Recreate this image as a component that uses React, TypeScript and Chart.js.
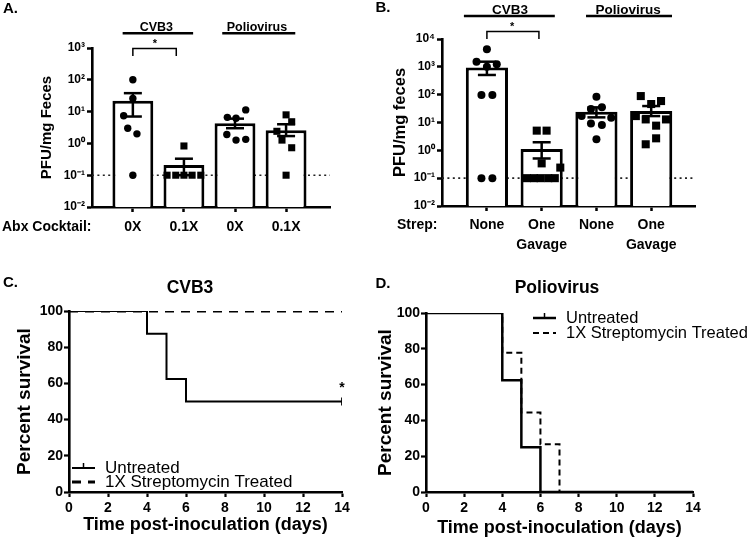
import React, { useEffect, useRef } from "react";
import { Chart, registerables } from "chart.js";
Chart.register(...registerables);

const FAMILY = "'Liberation Sans', Arial, Helvetica, sans-serif";
const BLACK = "#000000";

// ---------------- Panel A data ----------------
const aCategories: (string | string[])[] = ["0X", "0.1X", "0X", "0.1X"];
const aGroupLabels = ["CVB3", "Poliovirus"];
const aMeans = [22, 0.21, 4.3, 2.6];
const aSemHigh = [38, 0.33, 6.0, 4.0];
const aSemLow = [7, 0.1, 3.0, 1.7];
const aPointValues = [
  [100, 26, 7.4, 3, 2, 0.1],
  [0.83, 0.1, 0.1, 0.1, 0.1, 0.1],
  [11.3, 6.6, 6.2, 1.9, 1.27, 1.34],
  [7.9, 4.8, 2.4, 1.27, 0.73, 0.1],
];
const aPointX = [
  [0, 0, -0.18, -0.1, 0.08, 0],
  [0, -0.33, -0.16, 0, 0.16, 0.33],
  [0.21, -0.15, 0.02, -0.16, 0.02, 0.21],
  [0, 0.11, -0.18, -0.08, 0.11, 0],
];
const aDetectionLimit = 0.1;
const aTickValues = [0.01, 0.1, 1, 10, 100, 1000];
const aTickLabels = ["10⁻²", "10⁻¹", "10⁰", "10¹", "10²", "10³"];

// ---------------- Panel B data ----------------
const bCategories: (string | string[])[] = ["None", ["One", "Gavage"], "None", ["One", "Gavage"]];
const bGroupLabels = ["CVB3", "Poliovirus"];
const bMeans = [940, 1.12, 24.5, 26];
const bSemHigh = [1530, 1.95, 35, 39];
const bSemLow = [510, 0.51, 15.3, 17];
const bPointValues = [
  [4260, 1530, 1240, 1000, 97, 97, 0.1, 0.1],
  [5.1, 5.1, 0.34, 0.24, 0.1, 0.1, 0.1, 0.1, 0.1],
  [85, 35, 30.5, 17, 14.8, 9.3, 8.1, 2.5],
  [89, 59, 46, 17, 12.9, 12.9, 7.7, 2.7, 1.65],
];
const bPointX = [
  [0, -0.19, 0.18, 0, -0.1, 0.1, -0.1, 0.1],
  [-0.09, 0.09, 0, 0.34, -0.27, -0.14, -0.02, 0.12, 0.24],
  [0, 0.1, -0.1, -0.27, 0.27, -0.1, 0.1, 0],
  [-0.19, 0.18, 0, -0.28, -0.1, 0.27, 0.09, 0.09, -0.1],
];
const bDetectionLimit = 0.1;
const bTickValues = [0.01, 0.1, 1, 10, 100, 1000, 10000];
const bTickLabels = ["10⁻²", "10⁻¹", "10⁰", "10¹", "10²", "10³", "10⁴"];

// ---------------- Panel C data ----------------
const cUntreatedDays = [0, 4, 5, 6, 14];
const cUntreatedSurvival = [100, 87.5, 62.5, 50, 50];
const cTreatedDays = [0, 14];
const cTreatedSurvival = [100, 100];

// ---------------- Panel D data ----------------
const dUntreatedDays = [0, 4, 5, 6, 14];
const dUntreatedSurvival = [100, 62.5, 25, 0, 0];
const dTreatedDays = [0, 4, 5, 6, 7, 14];
const dTreatedSurvival = [100, 77.8, 44.4, 26.7, 0, 0];

const legendLabels = ["Untreated", "1X Streptomycin Treated"];

// ---------------- helpers ----------------
function drawText(ctx: CanvasRenderingContext2D, s: string, x: number, y: number, font: string, align: CanvasTextAlign = "center") {
  ctx.save();
  ctx.font = font;
  ctx.fillStyle = BLACK;
  ctx.textAlign = align;
  ctx.textBaseline = "middle";
  ctx.fillText(s, x, y);
  ctx.restore();
}
function drawLine(ctx: CanvasRenderingContext2D, pts: number[][], width: number, dash: number[] = []) {
  ctx.save();
  ctx.strokeStyle = BLACK;
  ctx.lineWidth = width;
  ctx.setLineDash(dash);
  ctx.beginPath();
  pts.forEach((p, i) => (i === 0 ? ctx.moveTo(p[0], p[1]) : ctx.lineTo(p[0], p[1])));
  ctx.stroke();
  ctx.restore();
}

type BarSpec = {
  letter: string; letterX: number; letterY: number;
  categories: (string | string[])[];
  groupLabels: string[];
  groupCenters: number[]; groupFrom: number[]; groupTo: number[];
  groupY: number; groupLineY: number; groupFont: number;
  bracket: [number, number]; bracketTop: number; bracketBottom: number; starX: number; starY: number;
  prefix: string; prefixX: number;
  means: number[]; semHigh: number[]; semLow: number[];
  pointValues: number[][]; pointX: number[][];
  detectionLimit: number;
  tickValues: number[]; tickLabels: string[];
  yTitle: string; yTitleSize: number;
  xMin: number; xMax: number;
  padding: { left: number; right: number; top: number; bottom: number };
  yWidth: number; xHeight: number;
  xTickPadding: number; xTickLineHeight: number;
  barPct: number; circleR: number; squareR: number;
};

function barConfig(s: BarSpec): any {
  const circles: any[] = [];
  const squares: any[] = [];
  s.pointValues.forEach((vals, ci) => {
    vals.forEach((v, j) => {
      const pt = { x: ci + s.pointX[ci][j], y: v };
      if (ci % 2 === 0) circles.push(pt); else squares.push(pt);
    });
  });
  const semPlugin = {
    id: "sem" + s.letter,
    afterDatasetDraw(chart: any, args: any) {
      if (args.meta.type !== "bar") return;
      const { ctx } = chart;
      const xs = chart.scales.x, ys = chart.scales.y;
      const cap = 9;
      s.semHigh.forEach((hi, i) => {
        const px = xs.getPixelForValue(i);
        const yh = ys.getPixelForValue(hi);
        const yl = ys.getPixelForValue(s.semLow[i]);
        drawLine(ctx, [[px, yh], [px, yl]], 2.5);
        drawLine(ctx, [[px - cap, yh], [px + cap, yh]], 2.5);
        drawLine(ctx, [[px - cap, yl], [px + cap, yl]], 2.5);
      });
    },
  };
  const annotPlugin = {
    id: "annot" + s.letter,
    afterDraw(chart: any) {
      const { ctx } = chart;
      const xs = chart.scales.x;
      drawText(ctx, s.letter, s.letterX, s.letterY, `bold 15px ${FAMILY}`, "left");
      s.groupLabels.forEach((g, i) => {
        drawText(ctx, g, xs.getPixelForValue(s.groupCenters[i]), s.groupY, `bold ${s.groupFont}px ${FAMILY}`);
        drawLine(ctx, [[xs.getPixelForValue(s.groupFrom[i]), s.groupLineY], [xs.getPixelForValue(s.groupTo[i]), s.groupLineY]], 2.6);
      });
      const b0 = xs.getPixelForValue(s.bracket[0]);
      const b1 = xs.getPixelForValue(s.bracket[1]);
      drawLine(ctx, [[b0, s.bracketBottom], [b0, s.bracketTop], [b1, s.bracketTop], [b1, s.bracketBottom]], 1.5);
      drawText(ctx, "*", xs.getPixelForValue(s.starX), s.starY, `bold 11px ${FAMILY}`);
      const tickY = xs.top + 5 + s.xTickPadding + (14 * s.xTickLineHeight) / 2;
      drawText(ctx, s.prefix, s.prefixX, tickY, `bold 14px ${FAMILY}`, "left");
    },
  };
  return {
    type: "bar",
    data: {
      datasets: [
        {
          type: "scatter", data: circles, order: 1,
          pointStyle: "circle", pointRadius: s.circleR, pointBackgroundColor: BLACK, pointBorderWidth: 0,
        },
        {
          type: "scatter", data: squares, order: 1,
          pointStyle: "rect", pointRadius: s.squareR, pointBackgroundColor: BLACK, pointBorderWidth: 0,
        },
        {
          type: "bar", order: 2,
          data: s.means.map((m, i) => ({ x: i, y: m })),
          backgroundColor: "#ffffff", borderColor: BLACK, borderWidth: 3,
          barPercentage: s.barPct, categoryPercentage: 1,
        },
        {
          type: "line", order: 3,
          data: [{ x: s.xMin, y: s.detectionLimit }, { x: s.xMax, y: s.detectionLimit }],
          borderColor: "#222", borderWidth: 1.6, borderDash: [2, 3.4], pointRadius: 0, fill: false,
        },
      ],
    },
    options: {
      animation: false, responsive: false, events: [],
      layout: { padding: s.padding },
      plugins: { legend: { display: false }, tooltip: { enabled: false } },
      scales: {
        x: {
          type: "linear", min: s.xMin, max: s.xMax, offset: false,
          afterBuildTicks: (sc: any) => { sc.ticks = s.categories.map((_, i) => ({ value: i })); },
          afterFit: (sc: any) => { sc.height = s.xHeight; },
          ticks: {
            callback: (_v: any, i: number) => s.categories[i],
            autoSkip: false, maxRotation: 0, color: BLACK, padding: s.xTickPadding,
            font: { family: FAMILY, size: 14, weight: "bold", lineHeight: s.xTickLineHeight },
          },
          grid: { display: true, offset: false, drawOnChartArea: false, drawTicks: true, tickLength: 5, tickWidth: 2.5, color: BLACK },
          border: { display: true, color: BLACK, width: 2.6 },
        },
        y: {
          type: "logarithmic", min: s.tickValues[0], max: s.tickValues[s.tickValues.length - 1],
          afterBuildTicks: (sc: any) => { sc.ticks = s.tickValues.map((v) => ({ value: v })); },
          afterFit: (sc: any) => { sc.width = s.yWidth; },
          ticks: {
            callback: (_v: any, i: number) => s.tickLabels[i],
            color: BLACK, padding: 2,
            font: { family: FAMILY, size: 12, weight: "bold" },
          },
          grid: { display: true, drawOnChartArea: false, drawTicks: true, tickLength: 5, tickWidth: 2.5, color: BLACK },
          border: { display: true, color: BLACK, width: 2.6 },
          title: {
            display: true, text: s.yTitle, color: BLACK, padding: 0,
            font: { family: FAMILY, size: s.yTitleSize, weight: "bold", lineHeight: 1 },
          },
        },
      },
    },
    plugins: [semPlugin, annotPlugin],
  };
}

type SurvSpec = {
  letter: string; letterX: number; letterY: number;
  title: string; titleX: number; titleY: number; titleSize: number;
  untreatedDays: number[]; untreatedSurvival: number[];
  treatedDays: number[]; treatedSurvival: number[];
  untreatedWidth: number; treatedWidth: number; treatedDash: number[];
  censorLast: boolean; star: boolean;
  padding: { left: number; right: number; top: number; bottom: number };
  yWidth: number; xHeight: number;
  legendX: number; legendY: number; legendGap: number; legendSize: number;
};

function survConfig(s: SurvSpec): any {
  const n = s.untreatedDays.length;
  const annot = {
    id: "annot" + s.letter,
    afterDraw(chart: any) {
      const { ctx } = chart;
      const xs = chart.scales.x, ys = chart.scales.y;
      drawText(ctx, s.letter, s.letterX, s.letterY, `bold 15px ${FAMILY}`, "left");
      drawText(ctx, s.title, s.titleX, s.titleY, `bold ${s.titleSize}px ${FAMILY}`);
      if (s.star) {
        drawText(ctx, "*", xs.getPixelForValue(s.untreatedDays[n - 1]), ys.getPixelForValue(s.untreatedSurvival[n - 1]) - 13, `bold 14px ${FAMILY}`);
      }
      // legend
      const lx = s.legendX, ly = s.legendY;
      drawLine(ctx, [[lx, ly], [lx + 23, ly]], s.untreatedWidth);
      drawLine(ctx, [[lx + 11.5, ly], [lx + 11.5, ly - 5]], 1.5);
      drawLine(ctx, [[lx, ly + s.legendGap], [lx + 23, ly + s.legendGap]], s.treatedWidth, s.treatedDash);
      drawText(ctx, legendLabels[0], lx + 33, ly, `${s.legendSize}px ${FAMILY}`, "left");
      drawText(ctx, legendLabels[1], lx + 33, ly + s.legendGap, `${s.legendSize}px ${FAMILY}`, "left");
    },
  };
  const axisCommon = (title: string, size: number) => ({
    grid: { display: true, drawOnChartArea: false, drawTicks: true, tickLength: 5, tickWidth: 2.2, color: BLACK },
    border: { display: true, color: BLACK, width: 2.6 },
    title: { display: true, text: title, color: BLACK, padding: 0, font: { family: FAMILY, size, weight: "bold", lineHeight: 1 } },
  });
  return {
    type: "line",
    data: {
      datasets: [
        {
          data: s.untreatedDays.map((d, i) => ({ x: d, y: s.untreatedSurvival[i] })),
          stepped: true, borderColor: BLACK, borderWidth: s.untreatedWidth, fill: false, order: 1,
          pointStyle: "line", rotation: 90, pointBorderColor: BLACK, pointBorderWidth: 1.8,
          pointRadius: s.untreatedDays.map((_, i) => (s.censorLast && i === n - 1 ? 4 : 0)),
        },
        {
          data: s.treatedDays.map((d, i) => ({ x: d, y: s.treatedSurvival[i] })),
          stepped: true, borderColor: BLACK, borderWidth: s.treatedWidth, borderDash: s.treatedDash,
          fill: false, pointRadius: 0, order: 2,
        },
      ],
    },
    options: {
      animation: false, responsive: false, events: [],
      layout: { padding: s.padding },
      plugins: { legend: { display: false }, tooltip: { enabled: false } },
      scales: {
        x: {
          type: "linear", min: 0, max: 14,
          ticks: { stepSize: 2, color: BLACK, padding: 3, font: { family: FAMILY, size: 14, weight: "bold" } },
          afterFit: (sc: any) => { sc.height = s.xHeight; },
          ...axisCommon("Time post-inoculation (days)", 18),
        },
        y: {
          type: "linear", min: 0, max: 100,
          ticks: { stepSize: 20, color: BLACK, padding: 1, font: { family: FAMILY, size: 14, weight: "bold" } },
          afterFit: (sc: any) => { sc.width = s.yWidth; },
          ...axisCommon("Percent survival", 19),
        },
      },
    },
    plugins: [annot],
  };
}

const specA: BarSpec = {
  letter: "A.", letterX: 3, letterY: 9,
  categories: aCategories, groupLabels: aGroupLabels,
  groupCenters: [0.46, 2.43], groupFrom: [-0.2, 1.75], groupTo: [1.18, 3.18],
  groupY: 27.5, groupLineY: 33.3, groupFont: 12.5,
  bracket: [0, 0.85], bracketTop: 48.5, bracketBottom: 56, starX: 0.43, starY: 44,
  prefix: "Abx Cocktail:", prefixX: 2,
  means: aMeans, semHigh: aSemHigh, semLow: aSemLow,
  pointValues: aPointValues, pointX: aPointX, detectionLimit: aDetectionLimit,
  tickValues: aTickValues, tickLabels: aTickLabels,
  yTitle: "PFU/mg Feces", yTitleSize: 15,
  xMin: -0.8, xMax: 3.86,
  padding: { left: 39.5, right: 45, top: 48, bottom: 0 },
  yWidth: 52.5, xHeight: 63, xTickPadding: 7, xTickLineHeight: 1.2,
  barPct: 0.8, circleR: 3.7, squareR: 5,
};

const specB: BarSpec = {
  letter: "B.", letterX: 0.5, letterY: 8,
  categories: bCategories, groupLabels: bGroupLabels,
  groupCenters: [0.42, 2.58], groupFrom: [-0.42, 1.81], groupTo: [1.24, 3.38],
  groupY: 10, groupLineY: 16, groupFont: 13.5,
  bracket: [0, 0.95], bracketTop: 31.5, bracketBottom: 39, starX: 0.46, starY: 27,
  prefix: "Strep:", prefixX: 22,
  means: bMeans, semHigh: bSemHigh, semLow: bSemLow,
  pointValues: bPointValues, pointX: bPointX, detectionLimit: bDetectionLimit,
  tickValues: bTickValues, tickLabels: bTickLabels,
  yTitle: "PFU/mg feces", yTitleSize: 16.5,
  xMin: -0.82, xMax: 3.8,
  padding: { left: 16.75, right: 55, top: 39, bottom: 0 },
  yWidth: 50.25, xHeight: 64, xTickPadding: 4, xTickLineHeight: 1.43,
  barPct: 0.77, circleR: 4, squareR: 5.7,
};

const specC: SurvSpec = {
  letter: "C.", letterX: 3, letterY: 13,
  title: "CVB3", titleX: 190, titleY: 18, titleSize: 17.5,
  untreatedDays: cUntreatedDays, untreatedSurvival: cUntreatedSurvival,
  treatedDays: cTreatedDays, treatedSurvival: cTreatedSurvival,
  untreatedWidth: 2, treatedWidth: 3, treatedDash: [9, 7],
  censorLast: true, star: true,
  padding: { left: 15.5, right: 33, top: 41, bottom: 8 },
  yWidth: 53.5, xHeight: 42,
  legendX: 72, legendY: 198, legendGap: 14, legendSize: 17,
};

const specD: SurvSpec = {
  letter: "D.", letterX: 0.5, letterY: 14,
  title: "Poliovirus", titleX: 182, titleY: 18, titleSize: 17.5,
  untreatedDays: dUntreatedDays, untreatedSurvival: dUntreatedSurvival,
  treatedDays: dTreatedDays, treatedSurvival: dTreatedSurvival,
  untreatedWidth: 2.5, treatedWidth: 2, treatedDash: [6, 4],
  censorLast: false, star: false,
  padding: { left: 1, right: 57, top: 43, bottom: 5 },
  yWidth: 50, xHeight: 45,
  legendX: 158, legendY: 48, legendGap: 15, legendSize: 16.5,
};

export default function App() {
  const aRef = useRef<HTMLCanvasElement>(null);
  const bRef = useRef<HTMLCanvasElement>(null);
  const cRef = useRef<HTMLCanvasElement>(null);
  const dRef = useRef<HTMLCanvasElement>(null);
  useEffect(() => {
    const charts = [
      new Chart(aRef.current as HTMLCanvasElement, barConfig(specA)),
      new Chart(bRef.current as HTMLCanvasElement, barConfig(specB)),
      new Chart(cRef.current as HTMLCanvasElement, survConfig(specC)),
      new Chart(dRef.current as HTMLCanvasElement, survConfig(specD)),
    ];
    return () => charts.forEach((c) => c.destroy());
  }, []);
  const cs = (l: number, t: number): React.CSSProperties => ({ position: "absolute", left: l, top: t, display: "block" });
  return (
    <div style={{ position: "absolute", left: 0, top: 0, width: 750, height: 542, background: "#ffffff", overflow: "hidden" }}>
      <canvas ref={aRef} width={375} height={270} style={cs(0, 0)} />
      <canvas ref={bRef} width={375} height={270} style={cs(375, 0)} />
      <canvas ref={cRef} width={375} height={272} style={cs(0, 270)} />
      <canvas ref={dRef} width={375} height={272} style={cs(375, 270)} />
    </div>
  );
}
